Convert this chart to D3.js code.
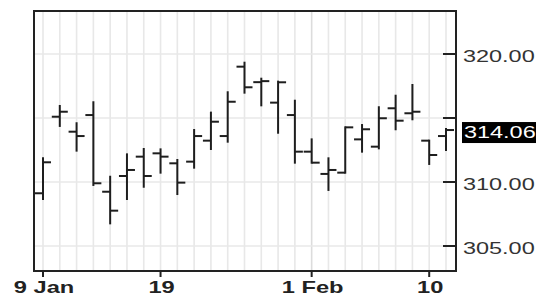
<!DOCTYPE html>
<html>
<head>
<meta charset="utf-8">
<script src="https://cdn.jsdelivr.net/npm/d3@7"></script>
<style>
  body { margin: 0; background: #fff; }
  svg { display: block; font-family: 'Liberation Sans', Arial, sans-serif; }
</style>
</head>
<body>
<svg id="chart" width="538" height="295"></svg>
<script>
// trading days, Jan 9 - Feb 13 (no Jan 16)
let dates = ['Jan 9', 'Jan 10', 'Jan 11', 'Jan 12', 'Jan 13', 'Jan 17', 'Jan 18', 'Jan 19', 'Jan 20',
  'Jan 23', 'Jan 24', 'Jan 25', 'Jan 26', 'Jan 27', 'Jan 30', 'Jan 31',
  'Feb 1', 'Feb 2', 'Feb 3', 'Feb 6', 'Feb 7', 'Feb 8', 'Feb 9', 'Feb 10', 'Feb 13']

let open  = [309.12, 315.10, 313.93, 315.23, 309.24, 310.47, 311.98, 312.24, 311.46,
  311.59, 313.23, 313.59, 319.01, 317.80, 316.20, 315.23,
  312.37, 310.63, 310.73, 313.33, 312.76, 315.76, 315.37, 313.23, 313.59]
let high  = [311.85, 315.94, 314.59, 316.23, 310.41, 312.16, 312.58, 312.55, 311.72,
  314.06, 315.42, 317.01, 319.32, 318.07, 317.84, 316.35,
  313.33, 311.85, 314.27, 314.45, 315.84, 316.74, 317.58, 313.23, 314.14]
let low   = [308.67, 314.38, 312.45, 309.77, 306.77, 308.67, 309.63, 310.73, 309.06,
  311.12, 312.58, 313.15, 316.98, 315.99, 313.85, 311.51,
  311.51, 309.38, 310.73, 312.37, 312.63, 314.12, 314.90, 311.41, 312.50]
let close = [311.54, 315.49, 313.59, 309.90, 307.76, 310.94, 310.47, 311.98, 309.95,
  313.59, 314.71, 316.27, 317.40, 317.88, 317.79, 312.37,
  311.51, 310.94, 314.27, 314.12, 314.98, 314.79, 315.49, 312.11, 314.06]

let xTickDates = ['Jan 9', 'Jan 19', 'Feb 1', 'Feb 10']
let xTickLabels = ['9 Jan', '19', '1 Feb', '10']
let yTicks = [305, 310, 315, 320]

let bars = dates.map((d, i) => ({ date: d, o: open[i], h: high[i], l: low[i], c: close[i] }))
let last = bars[bars.length - 1]

let plotLeft = 34, plotRight = 456, plotTop = 11, plotBottom = 271

let svg = d3.select('#chart')

let x = d3.scalePoint()
  .domain(dates)
  .range([43, 446])

let y = d3.scaleLinear()
  .domain([305, 320])
  .range([246, 54])

// grid
svg.append('g')
  .selectAll('line')
  .data(dates)
  .enter()
  .append('line')
  .attr('x1', d => x(d)).attr('x2', d => x(d))
  .attr('y1', plotTop).attr('y2', plotBottom)
  .attr('stroke', d => d === 'Feb 1' ? '#dcdcdc' : '#e8e8e8')
  .attr('stroke-width', 1.6)

svg.append('g')
  .selectAll('line')
  .data(yTicks)
  .enter()
  .append('line')
  .attr('x1', plotLeft).attr('x2', plotRight)
  .attr('y1', d => y(d)).attr('y2', d => y(d))
  .attr('stroke', '#e8e8e8')
  .attr('stroke-width', 1.6)

// ohlc bars
let barG = svg.append('g')
  .attr('stroke', '#1e1e1e')
  .attr('stroke-width', 2)

let bar = barG.selectAll('g')
  .data(bars)
  .enter()
  .append('g')

bar.append('line')
  .attr('x1', d => x(d.date)).attr('x2', d => x(d.date))
  .attr('y1', d => y(d.h) - 1).attr('y2', d => y(d.l) + 1)

bar.append('line')
  .attr('x1', d => x(d.date) - 8).attr('x2', d => x(d.date))
  .attr('y1', d => y(d.o)).attr('y2', d => y(d.o))

bar.append('line')
  .attr('x1', d => x(d.date)).attr('x2', d => x(d.date) + 8)
  .attr('y1', d => y(d.c)).attr('y2', d => y(d.c))

// frame
svg.append('rect')
  .attr('x', plotLeft).attr('y', plotTop)
  .attr('width', plotRight - plotLeft).attr('height', plotBottom - plotTop)
  .attr('fill', 'none')
  .attr('stroke', '#222')
  .attr('stroke-width', 2)

// right axis ticks + labels
svg.append('g')
  .selectAll('line')
  .data(yTicks)
  .enter()
  .append('line')
  .attr('x1', plotRight - 13).attr('x2', plotRight)
  .attr('y1', d => y(d)).attr('y2', d => y(d))
  .attr('stroke', '#222')
  .attr('stroke-width', 2)

svg.append('g')
  .selectAll('text')
  .data(yTicks.filter(d => Math.abs(y(d) - y(last.c)) > 14))
  .enter()
  .append('text')
  .attr('transform', d => `translate(463,${y(d) + 7.6}) scale(1.38,1)`)
  .attr('font-size', 17)
  .attr('fill', '#333')
  .text(d => d3.format('.2f')(d))

svg.append('rect')
  .attr('x', 462).attr('y', y(last.c) - 8)
  .attr('width', 74).attr('height', 21)
  .attr('fill', '#000')

svg.append('text')
  .attr('transform', `translate(464,${y(last.c) + 8}) scale(1.38,1)`)
  .attr('font-size', 17)
  .attr('fill', '#fff')
  .text(d3.format('.2f')(last.c))

// bottom axis ticks + labels
svg.append('g')
  .selectAll('line')
  .data(xTickDates)
  .enter()
  .append('line')
  .attr('x1', d => x(d)).attr('x2', d => x(d))
  .attr('y1', plotBottom).attr('y2', plotBottom + 6)
  .attr('stroke', '#222')
  .attr('stroke-width', 2)

svg.append('g')
  .selectAll('text')
  .data(xTickDates)
  .enter()
  .append('text')
  .attr('transform', d => `translate(${x(d) + 1},293) scale(1.48,1)`)
  .attr('text-anchor', 'middle')
  .attr('font-size', 16)
  .attr('font-weight', 'bold')
  .attr('fill', '#222')
  .text((d, i) => xTickLabels[i])
</script>
</body>
</html>
